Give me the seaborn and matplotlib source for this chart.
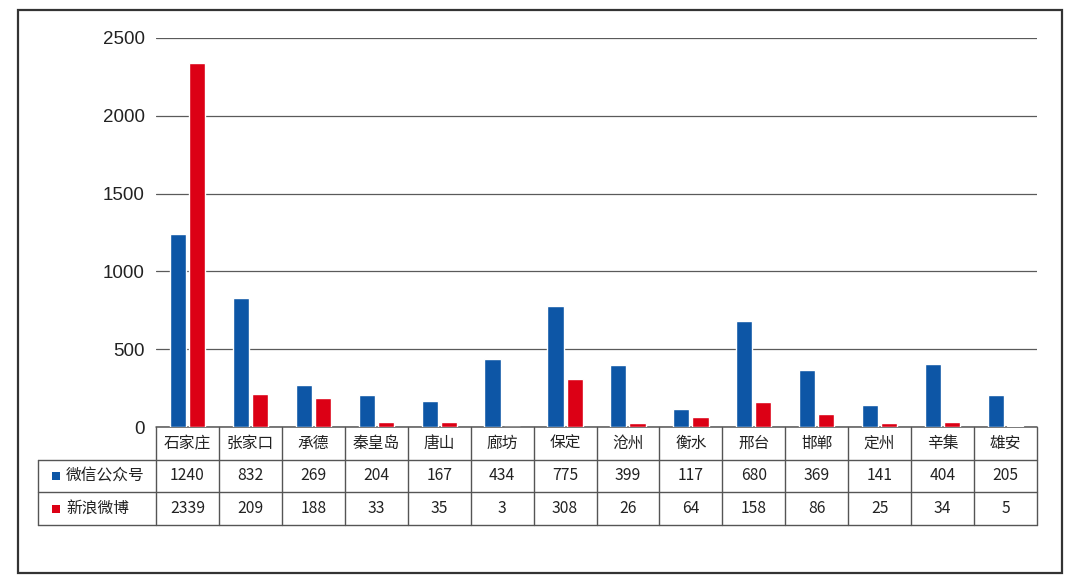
import numpy as np
import pandas as pd
import matplotlib
matplotlib.use("Agg")
import matplotlib.pyplot as plt
import matplotlib.transforms as mtransforms
from matplotlib.patches import Rectangle
import seaborn as sns

cities = ["石家庄", "张家口", "承德", "秦皇岛", "唐山", "廊坊", "保定", "沧州",
          "衡水", "邢台", "邯郸", "定州", "辛集", "雄安"]
wechat = [1240, 832, 269, 204, 167, 434, 775, 399, 117, 680, 369, 141, 404, 205]
weibo = [2339, 209, 188, 33, 35, 3, 308, 26, 64, 158, 86, 25, 34, 5]
series_names = ["微信公众号", "新浪微博"]
colors = ["#0d56a6", "#dc0015"]
yticks = [0, 500, 1000, 1500, 2000, 2500]

sns.set_theme(style="white")
plt.rcParams["font.family"] = ["Noto Sans CJK SC", "DejaVu Sans"]

df = pd.DataFrame({
    "city": cities * 2,
    "value": wechat + weibo,
    "series": [series_names[0]] * len(cities) + [series_names[1]] * len(cities),
})

W, H = 1080, 582
fig = plt.figure(figsize=(W / 100, H / 100), dpi=100)
fig.patch.set_facecolor("white")

ax_l, ax_r, ax_t, ax_b = 156, 1037, 38, 427
ax = fig.add_axes([ax_l / W, 1 - ax_b / H, (ax_r - ax_l) / W, (ax_b - ax_t) / H])

sns.barplot(data=df, x="city", y="value", hue="series", palette=colors,
            width=0.61, gap=0.16, saturation=1, ax=ax, legend=False,
            order=cities, hue_order=series_names, zorder=3)

ax.set_xlim(-0.5, len(cities) - 0.5)
ax.set_ylim(0, 2500)
ax.set_yticks(yticks)
ax.set_yticklabels([str(v) for v in yticks], family="Liberation Sans",
                   fontsize=13.5, color="#222222")
ax.tick_params(axis="y", length=0, pad=8)
ax.set_xticks([])
ax.set_xlabel("")
ax.set_ylabel("")
for s in ["left", "right", "top", "bottom"]:
    ax.spines[s].set_visible(False)
ax.yaxis.grid(True, color="#5a5a5a", linewidth=0.9, zorder=0)
ax.set_axisbelow(True)

# data table below the axes
line_c = "#555555"
txt_c = "#222222"
fs = 11.3
blend = mtransforms.blended_transform_factory(ax.transData, fig.transFigure)
ftr = fig.transFigure
yh_top, y1, y2, y3 = 427, 460, 492, 525
fy = lambda p: 1 - p / H
n = len(cities)

# horizontal lines
ax.plot([-0.5, n - 0.5], [fy(yh_top)] * 2, transform=blend, color=line_c, lw=1.1, clip_on=False)
for yy in (y1, y2, y3):
    ax.plot([38 / W, ax_r / W], [fy(yy)] * 2, transform=ftr, color=line_c, lw=1.0, clip_on=False)
# vertical lines
for i in range(n + 1):
    xx = i - 0.5
    ax.plot([xx, xx], [fy(yh_top), fy(y3)], transform=blend, color=line_c, lw=1.0, clip_on=False)
ax.plot([38 / W, 38 / W], [fy(y1), fy(y3)], transform=ftr, color=line_c, lw=1.0, clip_on=False)

# texts
for i, c in enumerate(cities):
    ax.text(i, fy((yh_top + y1) / 2), c, transform=blend, ha="center", va="center",
            fontsize=fs, color=txt_c)
    ax.text(i, fy((y1 + y2) / 2), str(wechat[i]), transform=blend, ha="center", va="center",
            fontsize=fs, color=txt_c)
    ax.text(i, fy((y2 + y3) / 2), str(weibo[i]), transform=blend, ha="center", va="center",
            fontsize=fs, color=txt_c)

for k, (name, col) in enumerate(zip(series_names, colors)):
    yc = (y1 + y2) / 2 if k == 0 else (y2 + y3) / 2
    fig.add_artist(Rectangle((52 / W, fy(yc + 4)), 8 / W, 8 / H, transform=ftr,
                             facecolor=col, edgecolor="none"))
    fig.text(66 / W, fy(yc), name, ha="left", va="center", fontsize=fs, color=txt_c)

# outer frame
fig.add_artist(Rectangle((18 / W, 1 - 573 / H), (1062 - 18) / W, (573 - 10) / H,
                         transform=ftr, facecolor="none", edgecolor="#333333", lw=1.6))

fig.savefig("out.png", dpi=100)
